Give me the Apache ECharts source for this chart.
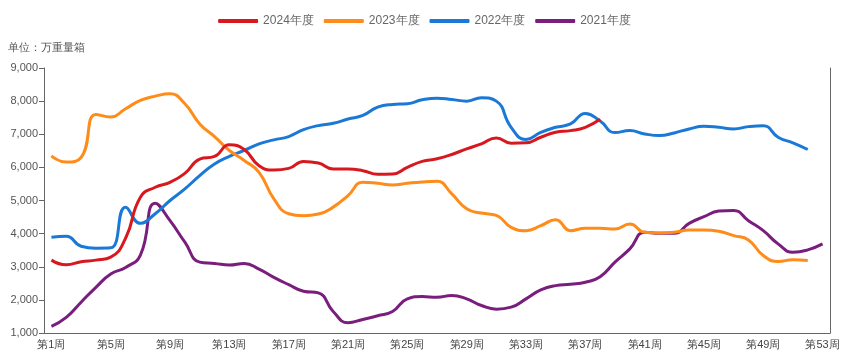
<!DOCTYPE html>
<html>
<head>
<meta charset="utf-8">
<script src="https://cdn.jsdelivr.net/npm/echarts@6/dist/echarts.min.js"></script>
<style>html,body{margin:0;padding:0;background:#fff}#c{width:849px;height:359px}</style>
</head>
<body>
<div id="c"></div>
<script>
const weeks = [];
for (let i = 1; i <= 53; i++) weeks.push('第' + i + '周');
const seriesNames = ['2024年度', '2023年度', '2022年度', '2021年度'];
const data2024 = [3200, 3060, 3150, 3200, 3290, 3860, 5100, 5400, 5550, 5820, 6250, 6330, 6680, 6540, 6050, 5920, 5970, 6180, 6130, 5950, 5950, 5900, 5790, 5800, 6000, 6180, 6260, 6390, 6560, 6710, 6890, 6730, 6740, 6910, 7060, 7110, 7210, 7450];
const data2023 = [6350, 6160, 6300, 7600, 7520, 7770, 8020, 8150, 8220, 7920, 7310, 6930, 6510, 6210, 5850, 5050, 4600, 4540, 4590, 4800, 5150, 5550, 5520, 5470, 5520, 5560, 5580, 5200, 4750, 4620, 4550, 4190, 4090, 4240, 4420, 4090, 4160, 4160, 4140, 4290, 4040, 4020, 4040, 4110, 4110, 4070, 3940, 3810, 3340, 3160, 3210, 3190];
const data2022 = [3890, 3920, 3620, 3560, 3570, 4800, 4310, 4600, 5000, 5350, 5750, 6100, 6330, 6510, 6710, 6830, 6930, 7140, 7260, 7330, 7460, 7570, 7820, 7900, 7920, 8040, 8090, 8050, 8000, 8100, 8000, 7210, 6840, 7060, 7210, 7310, 7630, 7400, 7050, 7110, 7010, 6960, 7040, 7160, 7240, 7210, 7160, 7230, 7260, 6910, 6740, 6540];
const data2021 = [1200, 1470, 1930, 2380, 2780, 2980, 3350, 4920, 4390, 3740, 3140, 3100, 3050, 3100, 2930, 2680, 2460, 2260, 2210, 1650, 1310, 1410, 1520, 1650, 2030, 2100, 2080, 2130, 2030, 1830, 1720, 1780, 2030, 2300, 2430, 2470, 2530, 2700, 3140, 3540, 4040, 4010, 4010, 4310, 4510, 4680, 4700, 4390, 4090, 3690, 3440, 3510, 3690];
const colors = ['#d7191f', '#ff8b19', '#1a78d6', '#7a1e7d'];
const allData = [data2024, data2023, data2022, data2021];

const chart = echarts.init(document.getElementById('c'));
chart.setOption({
  animation: false,
  title: {
    text: '单位：万重量箱', left: 3, top: 37,
    textStyle: { fontSize: 11, fontWeight: 'normal', color: '#555' }
  },
  legend: {
    top: 10, left: 'center', itemWidth: 40, itemHeight: 4, itemGap: 10,
    icon: 'roundRect',
    textStyle: { fontSize: 12, color: '#666' },
    data: seriesNames
  },
  grid: { left: 44, right: 19, top: 68, bottom: 26, containLabel: false },
  xAxis: {
    type: 'category', data: weeks, boundaryGap: true,
    axisLine: { lineStyle: { color: '#666' } },
    axisTick: { interval: 3, length: 5, lineStyle: { color: '#666' } },
    axisLabel: { interval: 3, fontSize: 11, color: '#444', margin: 6 }
  },
  yAxis: [{
    type: 'value', min: 1000, max: 9000, interval: 1000,
    axisLine: { show: true, lineStyle: { color: '#666' } },
    axisTick: { show: true, length: 5, lineStyle: { color: '#666' } },
    splitLine: { show: false },
    axisLabel: { fontSize: 11, color: '#555', margin: 6,
      formatter: v => v.toLocaleString('en-US') }
  }, {
    type: 'value', min: 1000, max: 9000, interval: 1000, position: 'right',
    axisLine: { show: true, lineStyle: { color: '#666' } },
    axisTick: { show: false }, axisLabel: { show: false }, splitLine: { show: false }
  }],
  series: seriesNames.map((n, i) => ({
    name: n, type: 'line', data: allData[i], smooth: true, symbol: 'none',
    lineStyle: { width: 3, color: colors[i] }, itemStyle: { color: colors[i] },
    z: 10 - i
  }))
});
</script>
</body>
</html>
